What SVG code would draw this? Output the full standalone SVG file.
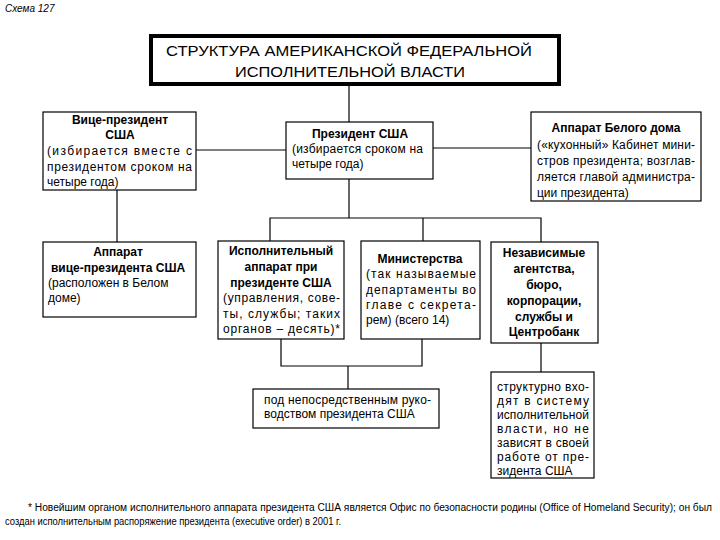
<svg xmlns="http://www.w3.org/2000/svg" width="720" height="540" viewBox="0 0 720 540">
<style>
.box{fill:#fff;stroke:#000;stroke-width:1.2}
.ln{stroke:#000;stroke-width:1.2;fill:none}
text{font-family:"Liberation Sans",Arial,sans-serif;fill:#000}
.b{font-size:12px;font-weight:bold}
.t{font-size:12px}
.c{text-anchor:middle}
.f{font-size:10px}
</style>
<rect width="720" height="540" fill="#fff"/>
<text x="5" y="12" class="f" font-style="italic">Схема 127</text>

<g id="connectors">
<line class="ln" x1="349" y1="84" x2="349" y2="122"/>
<line class="ln" x1="196" y1="150" x2="286" y2="150"/>
<line class="ln" x1="433" y1="148" x2="531" y2="148"/>
<line class="ln" x1="117" y1="190" x2="117" y2="242"/>
<line class="ln" x1="349" y1="179" x2="349" y2="218"/>
<polyline class="ln" points="270,241 270,218 541,218 541,242"/>
<line class="ln" x1="423" y1="218" x2="423" y2="241"/>
<polyline class="ln" points="281,339 281,366 422,366 422,339"/>
<line class="ln" x1="348" y1="366" x2="348" y2="389"/>
<line class="ln" x1="541" y1="343" x2="541" y2="372"/>
</g>

<g id="title">
<rect x="151" y="36" width="408" height="48" fill="#fff" stroke="#000" stroke-width="4"/>
<text x="349" y="56" class="c" font-size="15.5" textLength="366" lengthAdjust="spacingAndGlyphs">СТРУКТУРА АМЕРИКАНСКОЙ ФЕДЕРАЛЬНОЙ</text>
<text x="350" y="77" class="c" font-size="15.5" textLength="230" lengthAdjust="spacingAndGlyphs">ИСПОЛНИТЕЛЬНОЙ ВЛАСТИ</text>
</g>

<g id="vp">
<rect class="box" x="43" y="112" width="153" height="78"/>
<text x="120" y="124" class="b c">Вице-президент</text>
<text x="120" y="139" class="b c">США</text>
<text x="47" y="155" class="t" textLength="145" lengthAdjust="spacing">(избирается вместе с</text>
<text x="47" y="171" class="t" textLength="145" lengthAdjust="spacing">президентом сроком на</text>
<text x="47" y="186" class="t">четыре года)</text>
</g>

<g id="president">
<rect class="box" x="286" y="122" width="147" height="57"/>
<text x="360" y="138" class="b c">Президент США</text>
<text x="292" y="153" class="t" textLength="131" lengthAdjust="spacing">(избирается сроком на</text>
<text x="292" y="168" class="t">четыре года)</text>
</g>

<g id="whitehouse">
<rect class="box" x="531" y="112" width="170" height="89"/>
<text x="616" y="132" class="b c">Аппарат Белого дома</text>
<text x="537" y="149" class="t" textLength="158" lengthAdjust="spacing">(«кухонный» Кабинет мини-</text>
<text x="537" y="165" class="t" textLength="158" lengthAdjust="spacing">стров президента; возглав-</text>
<text x="537" y="181" class="t" textLength="158" lengthAdjust="spacing">ляется главой администра-</text>
<text x="537" y="197" class="t">ции президента)</text>
</g>

<g id="vp-apparat">
<rect class="box" x="43" y="242" width="153" height="75"/>
<text x="118" y="256" class="b c">Аппарат</text>
<text x="118" y="272" class="b c">вице-президента США</text>
<text x="48" y="287" class="t">(расположен в Белом</text>
<text x="48" y="302" class="t">доме)</text>
</g>

<g id="exec">
<rect class="box" x="218" y="241" width="126" height="98"/>
<text x="281" y="255" class="b c">Исполнительный</text>
<text x="281" y="271" class="b c">аппарат при</text>
<text x="281" y="287" class="b c">президенте США</text>
<text x="223" y="302" class="t" textLength="117" lengthAdjust="spacing">(управления, сове-</text>
<text x="223" y="318" class="t" textLength="117" lengthAdjust="spacing">ты, службы; таких</text>
<text x="223" y="333" class="t" textLength="117" lengthAdjust="spacing">органов – десять)*</text>
</g>

<g id="ministries">
<rect class="box" x="361" y="241" width="119" height="98"/>
<text x="420" y="263" class="b c">Министерства</text>
<text x="366" y="278" class="t" textLength="110" lengthAdjust="spacing">(так называемые</text>
<text x="366" y="294" class="t" textLength="110" lengthAdjust="spacing">департаменты во</text>
<text x="366" y="309" class="t" textLength="110" lengthAdjust="spacing">главе с секрета-</text>
<text x="366" y="324" class="t">рем) (всего 14)</text>
</g>

<g id="independent">
<rect class="box" x="491" y="242" width="107" height="101"/>
<text x="544" y="257" class="b c">Независимые</text>
<text x="544" y="273" class="b c">агентства,</text>
<text x="544" y="289" class="b c">бюро,</text>
<text x="544" y="305" class="b c">корпорации,</text>
<text x="544" y="321" class="b c">службы и</text>
<text x="544" y="336" class="b c">Центробанк</text>
</g>

<g id="direct">
<rect class="box" x="253" y="389" width="186" height="39"/>
<text x="264" y="404" class="t" textLength="167" lengthAdjust="spacing">под непосредственным руко-</text>
<text x="264" y="418" class="t">водством президента США</text>
</g>

<g id="structural">
<rect class="box" x="491" y="372" width="103" height="106"/>
<text x="497" y="391" class="t" textLength="92" lengthAdjust="spacing">структурно вхо-</text>
<text x="497" y="405" class="t" textLength="92" lengthAdjust="spacing">дят в систему</text>
<text x="497" y="419" class="t" textLength="92" lengthAdjust="spacing">исполнительной</text>
<text x="497" y="433" class="t" textLength="92" lengthAdjust="spacing">власти, но не</text>
<text x="497" y="447" class="t" textLength="92" lengthAdjust="spacing">зависят в своей</text>
<text x="497" y="461" class="t" textLength="92" lengthAdjust="spacing">работе от пре-</text>
<text x="497" y="475" class="t">зидента США</text>
</g>

<g id="footnote">
<text x="28" y="511" class="f" textLength="684" lengthAdjust="spacingAndGlyphs">* Новейшим органом исполнительного аппарата президента США является Офис по безопасности родины (Office of Homeland Security); он был</text>
<text x="5" y="525" class="f" textLength="336" lengthAdjust="spacingAndGlyphs">создан исполнительным распоряжение президента (executive order) в 2001 г.</text>
</g>
</svg>
